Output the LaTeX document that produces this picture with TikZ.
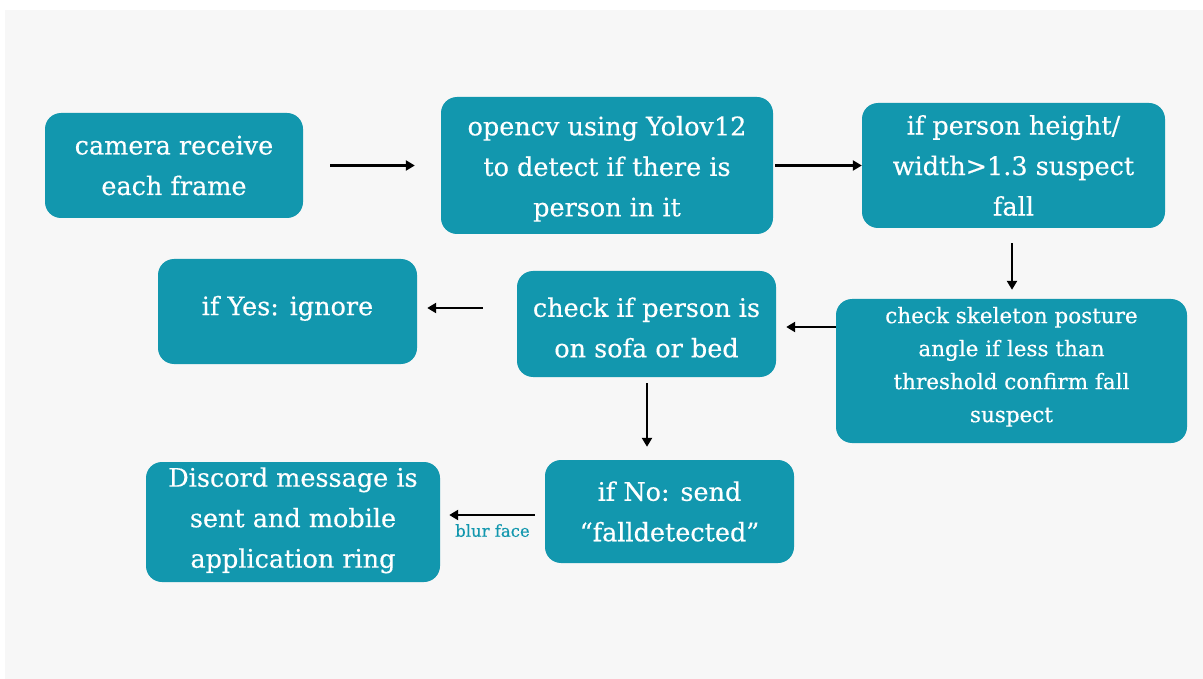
\documentclass[tikz,border=0pt]{standalone}
\usepackage{fontspec}
\setmainfont{DejaVu Serif}[FakeBold=0.4]
\usetikzlibrary{arrows.meta}
\definecolor{teal1}{RGB}{18,151,174}
\definecolor{bggray}{RGB}{247,247,247}
\tikzset{
  box/.style={fill=teal1, rounded corners=16pt, text=white, align=center,
    inner sep=0pt, font=\fontsize{25.5}{40.5}\selectfont},
  conn/.style={draw=black, line width=2.4pt, -{Triangle[length=9pt,width=10pt]}},
}
\begin{document}
\begin{tikzpicture}[x=1pt,y=-1pt]
\useasboundingbox (0,0) rectangle (1203,679);
\fill[white] (0,0) rectangle (1203,679);
\fill[bggray] (5,10) rectangle (1203,679);

\node[box, minimum width=258pt, minimum height=105pt] (cam) at (174,165.5) {camera receive\\each frame};
\node[box, minimum width=332pt, minimum height=137pt, text height=107pt] (cv) at (607,165.5) {opencv using Yolov12\\to detect if there is\\person in it};
\node[box, minimum width=303pt, minimum height=125pt] (ht) at (1013.5,165.5) {if person height/\\width>1.3 suspect\\fall};
\node[box, minimum width=351pt, minimum height=144pt, font=\fontsize{21.5}{33}\selectfont, text depth=13pt] (sk) at (1011.5,371) {check skeleton posture\\angle if less than\\threshold confirm fall\\suspect};
\node[box, minimum width=259pt, minimum height=106pt, text height=67pt] (chk) at (646.5,324) {check if person is\\on sofa or bed};
\node[box, minimum width=259pt, minimum height=105pt, text depth=12pt] (yes) at (287.5,311.5) {if Yes: ignore};
\node[box, minimum width=249pt, minimum height=103pt] (no) at (669.5,511.5) {if No: send\\“falldetected”};
\node[box, minimum width=294pt, minimum height=120pt, text depth=9pt] (dis) at (293,522) {Discord message is\\sent and mobile\\application ring};

\draw[conn, shorten <=27pt, shorten >=26pt] (cam.east) -- (cv.west);
\draw[conn, shorten <=2pt, shorten >=0pt] (cv.east) -- (ht.west);
\draw[conn, shorten <=15pt, shorten >=9pt] (ht.south -| 1012,0) -- (sk.north -| 1012,0);
\draw[conn, shorten >=10pt] (sk.west |- 0,327) -- (chk.east |- 0,327);
\draw[conn, shorten <=34pt, shorten >=10pt] (chk.west |- 0,308) -- (yes.east |- 0,308);
\draw[conn, shorten <=6pt, shorten >=13pt] (chk.south -| 647,0) -- (no.north -| 647,0);
\draw[conn, shorten <=10pt, shorten >=9pt] (no.west |- 0,515) -- (dis.east |- 0,515)
  node[midway, below=8pt, text=teal1, font=\fontsize{16.5}{18}\selectfont, inner sep=0pt] {blur face};
\end{tikzpicture}
\end{document}
